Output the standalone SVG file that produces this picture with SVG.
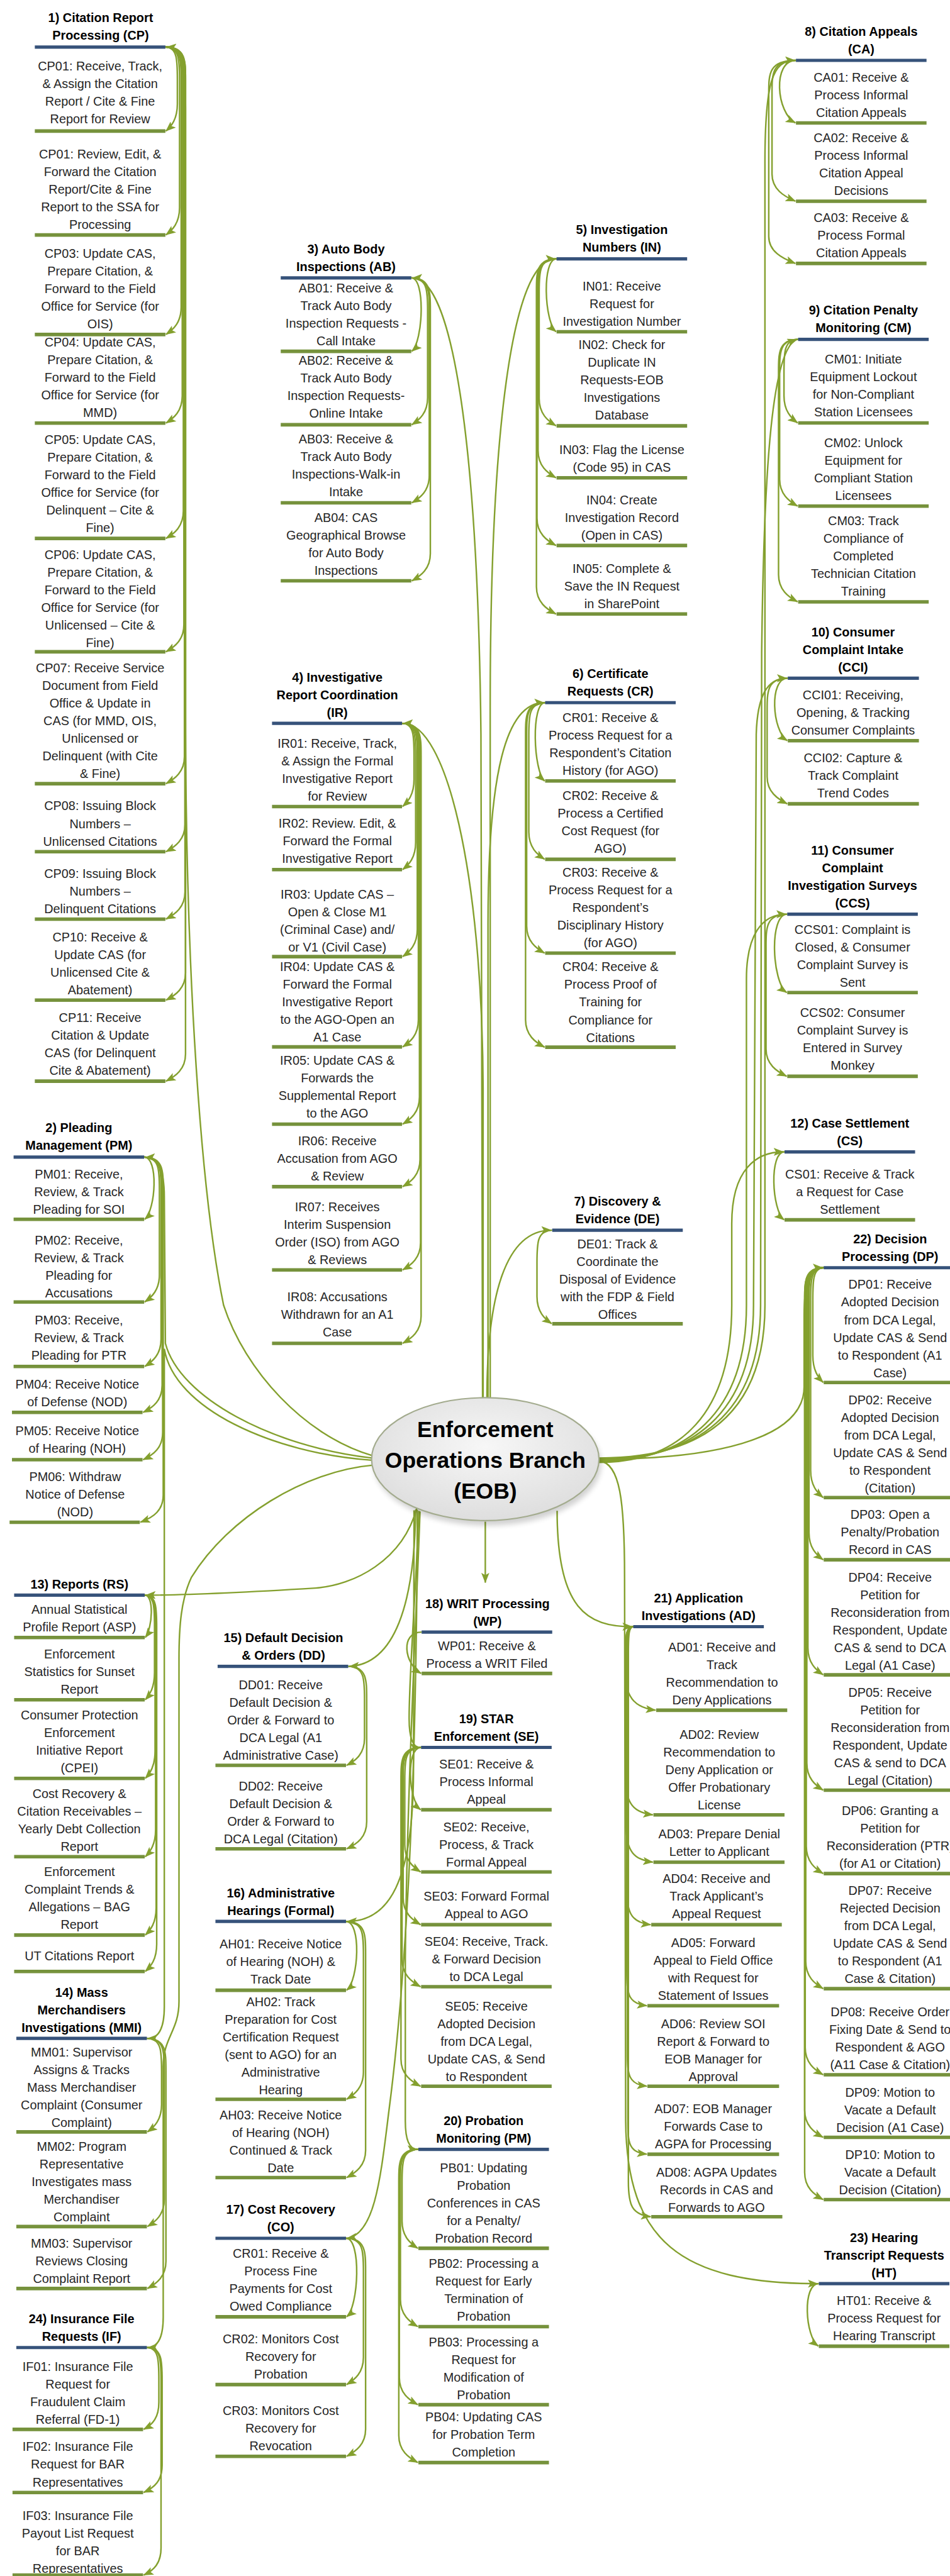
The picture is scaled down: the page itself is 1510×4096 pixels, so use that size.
<svg xmlns="http://www.w3.org/2000/svg" width="1510" height="4096" viewBox="0 0 1510 4096">
<style>
.t{font-family:"Liberation Sans",Arial,sans-serif;font-size:23px;fill:#262626;text-anchor:middle}
.h{font-family:"Liberation Sans",Arial,sans-serif;font-size:23px;font-weight:bold;fill:#000;text-anchor:middle}
.e{font-family:"Liberation Sans",Arial,sans-serif;font-size:41px;font-weight:bold;fill:#000;text-anchor:middle}
.hb{stroke:#36527a;stroke-width:6;fill:none}
.ib{stroke:#76923c;stroke-width:6.5;fill:none}
.c path{fill:none;stroke:#84a02e;stroke-width:2.8;marker-end:url(#ah)}
</style>
<defs>
<marker id="ah" viewBox="0 0 18 14" refX="17" refY="7" markerWidth="19" markerHeight="15" markerUnits="userSpaceOnUse" orient="auto"><path d="M0 0L18 7L0 14L4 7Z" fill="#84a02e"/></marker>
<radialGradient id="eobFill" cx="0.5" cy="0.4" r="0.6"><stop offset="0" stop-color="#f7f7f7"/><stop offset="1" stop-color="#dedede"/></radialGradient>
<filter id="soft" x="-20%" y="-20%" width="140%" height="150%"><feGaussianBlur stdDeviation="5"/></filter>
</defs>
<rect width="1510" height="4096" fill="#fff"/>
<g transform="scale(0.86476)">

<g id="connectors" class="c">
<!-- EOB to group headers -->
<path d="M683 2676C560 2640 450 2520 411 2400C370 2200 341 1800 341 1300L341 200C341 115 330 88 306 86.5"/>
<path d="M684 2681C500 2660 330 2570 304 2470L302 2200C302 2150 290 2128 267 2128"/>
<path d="M684 2685C500 2672 320 2590 302 2480L302 3690C302 3730 292 3748 272 3748"/>
<path d="M686 2694C560 2705 420 2790 352 2900C333 2940 329 2990 329 3050L329 3680C329 3735 300 3745 300 3800L300 4260C300 4295 292 4316 272 4316.5"/>
<path d="M766 2773C740 2870 650 2915 580 2920C450 2928 350 2933 268 2933"/>
<path d="M764 2776C762 2950 725 3060 642 3064"/>
<path d="M761 2777L760 3260C759 3460 715 3533 638 3533"/>
<path d="M767 2776C766 3300 745 3650 715 3880C700 4000 690 4108 638 4115.6"/>
<path d="M770 2778C763 2950 752 3080 752 3160C752 3200 760 3213 772 3213"/>
<path d="M772 2779C765 2980 748 3300 745 3600L745 3900C745 3935 752 3952 767 3952"/>
<path d="M892 2798L892 2910"/>
<path d="M887 2571L884 1350C878 800 830 511 758 511"/>
<path d="M888 2571L888 2000C886 1600 820 1330 741 1330"/>
<path d="M897 2571L897 1700C897 1420 930 1292 1000 1292"/>
<path d="M901 2571L901 1300C901 800 940 476 1021 476"/>
<path d="M895 2571C895 2380 930 2262 1013 2262"/>
<path d="M1101 2681C1290 2681 1406 2600 1406 2400L1406 300C1406 150 1420 111 1461 111"/>
<path d="M1101 2683C1280 2683 1398 2600 1398 2400L1400 1200C1404 850 1420 640 1465 624"/>
<path d="M1101 2685C1270 2685 1385 2600 1385 2400L1390 1350C1392 1280 1410 1247 1446 1247"/>
<path d="M1101 2687C1260 2687 1372 2600 1372 2400L1372 1800C1372 1720 1400 1681 1445 1681"/>
<path d="M1101 2689C1250 2689 1345 2600 1345 2400L1345 2250C1345 2150 1390 2118 1440 2118"/>
<path d="M1101 2683C1300 2683 1478 2650 1478 2550L1478 2420C1478 2360 1488 2331 1512 2331"/>
<path d="M1024 2778C1024 2960 1080 2991 1162 2991"/>
<path d="M1101 2686C1140 2690 1148 2760 1148 2900L1150 3900C1152 4120 1250 4199 1503 4199"/>

<!-- 1) CP items -->
<path d="M304 86.5C326 86.5 326 111.5 326 146.5L326 191C326 219 315 232 305 241"/>
<path d="M304 86.5C330 86.5 330 111.5 330 146.5L330 382C330 410 317 423 305 432"/>
<path d="M304 86.5C333 86.5 333 111.5 333 146.5L333 565C333 593 318.5 606 305 615"/>
<path d="M304 86.5C335 86.5 335 111.5 335 146.5L335 728C335 756 319.5 769 305 778"/>
<path d="M304 86.5C337 86.5 337 111.5 337 146.5L337 940C337 968 320.5 981 305 990"/>
<path d="M304 86.5C338 86.5 338 111.5 338 146.5L338 1148.5C338 1176.5 321 1189.5 305 1198.5"/>
<path d="M304 86.5C339 86.5 339 111.5 339 146.5L339 1391C339 1419 321.5 1432 305 1441"/>
<path d="M304 86.5C340 86.5 340 111.5 340 146.5L340 1516C340 1544 322 1557 305 1566"/>
<path d="M304 86.5C340 86.5 340 111.5 340 146.5L340 1640C340 1668 322 1681 305 1690"/>
<path d="M304 86.5C341 86.5 341 111.5 341 146.5L341 1789C341 1817 322.5 1830 305 1839"/>
<path d="M304 86.5C341 86.5 341 111.5 341 146.5L341 1938C341 1966 322.5 1979 305 1988"/>
<!-- 2) PM items -->
<path d="M265 2127.6C291.4 2127.6 286.6 2224 266 2242"/>
<path d="M265 2127.6C293 2127.6 293 2152.6 293 2187.6L293 2344C293 2372 279 2385 266 2394"/>
<path d="M265 2127.6C296 2127.6 296 2152.6 296 2187.6L296 2462.5C296 2490.5 280.5 2503.5 266 2512.5"/>
<path d="M265 2127.6C298 2127.6 298 2152.6 298 2187.6L298 2547C298 2575 281.5 2588 263 2597"/>
<path d="M265 2127.6C299 2127.6 299 2152.6 299 2187.6L299 2634C299 2662 282 2675 263 2684"/>
<path d="M265 2127.6C300 2127.6 300 2152.6 300 2187.6L300 2749C300 2777 282.5 2790 258 2799"/>
<!-- 13) RS items -->
<path d="M266 2933C283.6 2933 280.4 2993 267 3011"/>
<path d="M266 2933C284 2933 284 2958 284 2993L284 3075.5C284 3103.5 275 3116.5 267 3125.5"/>
<path d="M266 2933C285 2933 285 2958 285 2993L285 3220C285 3248 275.5 3261 267 3270"/>
<path d="M266 2933C286 2933 286 2958 286 2993L286 3364C286 3392 276 3405 267 3414"/>
<path d="M266 2933C287 2933 287 2958 287 2993L287 3508C287 3536 276.5 3549 267 3558"/>
<path d="M266 2933C288 2933 288 2958 288 2993L288 3575C288 3603 277 3616 267 3625"/>
<!-- 14) MMI items -->
<path d="M270 3748C297 3748 297 3773 297 3808L297 3870C297 3898 283.5 3911 271 3920"/>
<path d="M270 3748C302 3748 302 3773 302 3808L302 4044C302 4072 286 4085 271 4094"/>
<path d="M270 3748C305 3748 305 3773 305 3808L305 4158C305 4186 287.5 4199 271 4208"/>
<!-- 24) IF items -->
<path d="M270 4316.5C292 4316.5 292 4341.5 292 4376.5L292 4417C292 4445 281 4458 264 4467"/>
<path d="M270 4316.5C298 4316.5 298 4341.5 298 4376.5L298 4533C298 4561 284 4574 264 4583"/>
<path d="M270 4316.5C296 4316.5 296 4341.5 296 4376.5L296 4685C296 4713 283 4726 264 4735"/>
<!-- 3) AB items -->
<path d="M756 511C782.4 511 777.6 628 757 646"/>
<path d="M756 511C786 511 786 536 786 571L786 731C786 759 771 772 757 781"/>
<path d="M756 511C789 511 789 536 789 571L789 874.5C789 902.5 772.5 915.5 757 924.5"/>
<path d="M756 511C791 511 791 536 791 571L791 1018C791 1046 773.5 1059 757 1068"/>
<!-- 4) IR items -->
<path d="M739 1330C761 1330 761 1355 761 1390L761 1433C761 1461 750 1474 740 1483"/>
<path d="M739 1330C764 1330 764 1355 764 1390L764 1549C764 1577 751.5 1590 740 1599"/>
<path d="M739 1330C767 1330 767 1355 767 1390L767 1709C767 1737 753 1750 740 1759"/>
<path d="M739 1330C769 1330 769 1355 769 1390L769 1875C769 1903 754 1916 740 1925"/>
<path d="M739 1330C771 1330 771 1355 771 1390L771 2017C771 2045 755 2058 740 2067"/>
<path d="M739 1330C772 1330 772 1355 772 1390L772 2132C772 2160 755.5 2173 740 2182"/>
<path d="M739 1330C773 1330 773 1355 773 1390L773 2285C773 2313 756 2326 740 2335"/>
<path d="M739 1330C774 1330 774 1355 774 1390L774 2420C774 2448 756.5 2461 740 2470"/>
<!-- 5) IN items -->
<path d="M1023 476C995.5 476 1000.5 592 1022 610"/>
<path d="M1023 476C991 476 991 501 991 536L991 733C991 761 1007 774 1022 783"/>
<path d="M1023 476C989 476 989 501 989 536L989 828.6C989 856.6 1006 869.6 1022 878.6"/>
<path d="M1023 476C987 476 987 501 987 536L987 953C987 981 1005 994 1022 1003"/>
<path d="M1023 476C986 476 986 501 986 536L986 1079C986 1107 1004.5 1120 1022 1129"/>
<!-- 6) CR items -->
<path d="M1002 1292C975.6 1292 980.4 1418 1001 1436"/>
<path d="M1002 1292C972 1292 972 1317 972 1352L972 1530C972 1558 987 1571 1001 1580"/>
<path d="M1002 1292C968 1292 968 1317 968 1352L968 1702.5C968 1730.5 985 1743.5 1001 1752.5"/>
<path d="M1002 1292C966 1292 966 1317 966 1352L966 1875.5C966 1903.5 984 1916.5 1001 1925.5"/>
<!-- 7) DE item -->
<path d="M1015 2262C987 2262 987 2287 987 2322L987 2384C987 2412 1001 2425 1014 2434"/>
<!-- 8) CA items -->
<path d="M1463 111C1419 111 1427 208 1462 226"/>
<path d="M1463 111C1419 111 1419 136 1419 171L1419 320C1419 348 1441 361 1462 370"/>
<path d="M1463 111C1413 111 1413 136 1413 171L1413 434.4C1413 462.4 1438 475.4 1462 484.4"/>
<!-- 9) CM items -->
<path d="M1467 624C1441 624 1441 649 1441 684L1441 727.6C1441 755.6 1454 768.6 1466 777.6"/>
<path d="M1467 624C1433 624 1433 649 1433 684L1433 880.6C1433 908.6 1450 921.6 1466 930.6"/>
<path d="M1467 624C1431 624 1431 649 1431 684L1431 1056.6C1431 1084.6 1449 1097.6 1466 1106.6"/>
<!-- 10) CCI items -->
<path d="M1448 1247C1412.8 1247 1419.2 1344 1447 1362"/>
<path d="M1448 1247C1410 1247 1410 1272 1410 1307L1410 1428C1410 1456 1429 1469 1447 1478"/>
<!-- 11) CCS items -->
<path d="M1447 1681C1412.9 1681 1419.1 1807 1446 1825"/>
<path d="M1447 1681C1408 1681 1408 1706 1408 1741L1408 1929C1408 1957 1427.5 1970 1446 1979"/>
<!-- 12) CS item -->
<path d="M1442 2118C1413.4 2118 1418.6 2225 1441 2243"/>
<!-- 22) DP items -->
<path d="M1514 2331C1494 2331 1494 2356 1494 2391L1494 2492C1494 2520 1504 2533 1513 2542"/>
<path d="M1514 2331C1490 2331 1490 2356 1490 2391L1490 2703.6C1490 2731.6 1502 2744.6 1513 2753.6"/>
<path d="M1514 2331C1487 2331 1487 2356 1487 2391L1487 2818C1487 2846 1500.5 2859 1513 2868"/>
<path d="M1514 2331C1485 2331 1485 2356 1485 2391L1485 3029.6C1485 3057.6 1499.5 3070.6 1513 3079.6"/>
<path d="M1514 2331C1483 2331 1483 2356 1483 2391L1483 3241.6C1483 3269.6 1498.5 3282.6 1513 3291.6"/>
<path d="M1514 2331C1482 2331 1482 2356 1482 2391L1482 3395C1482 3423 1498 3436 1513 3445"/>
<path d="M1514 2331C1481 2331 1481 2356 1481 2391L1481 3606.6C1481 3634.6 1497.5 3647.6 1513 3656.6"/>
<path d="M1514 2331C1480 2331 1480 2356 1480 2391L1480 3765C1480 3793 1497 3806 1513 3815"/>
<path d="M1514 2331C1479 2331 1479 2356 1479 2391L1479 3880C1479 3908 1496.5 3921 1513 3930"/>
<path d="M1514 2331C1479 2331 1479 2356 1479 2391L1479 3994.5C1479 4022.5 1496.5 4035.5 1513 4044.5"/>
<!-- 23) HT item -->
<path d="M1505 4199C1474.2 4199 1479.8 4296 1504 4314"/>
<!-- 21) AD items -->
<path d="M1164 2991C1151 2991 1150 3005 1150 3040L1150 3079.6C1150 3124.6 1171 3140.6 1205 3144.6"/>
<path d="M1164 2991C1151 2991 1150 3005 1150 3040L1150 3272C1150 3317 1166 3333 1200 3337"/>
<path d="M1164 2991C1152 2991 1151 3005 1151 3040L1151 3359C1151 3404 1166 3420 1200 3424"/>
<path d="M1164 2991C1153 2991 1152 3005 1152 3040L1152 3474C1152 3519 1162 3535 1196 3539"/>
<path d="M1164 2991C1153 2991 1152 3005 1152 3040L1152 3623C1152 3668 1155 3684 1189 3688"/>
<path d="M1164 2991C1154 2991 1153 3005 1153 3040L1153 3771C1153 3816 1155 3832 1189 3836"/>
<path d="M1164 2991C1155 2991 1154 3005 1154 3040L1154 3896C1154 3941 1155 3957 1189 3961"/>
<path d="M1164 2991C1156 2991 1155 3005 1155 3040L1155 4011C1155 4056 1162 4072 1196 4076"/>
<!-- 18) WP item -->
<path d="M775 3001C735.4 3001 742.6 3059 774 3077"/>
<!-- 19) SE items -->
<path d="M774 3213C745.4 3213 750.6 3309.6 773 3327.6"/>
<path d="M774 3213C744 3213 744 3238 744 3273L744 3392C744 3420 759 3433 773 3442"/>
<path d="M774 3213C741 3213 741 3238 741 3273L741 3489C741 3517 757.5 3530 773 3539"/>
<path d="M774 3213C739 3213 739 3238 739 3273L739 3603C739 3631 756.5 3644 773 3653"/>
<path d="M774 3213C737 3213 737 3238 737 3273L737 3786C737 3814 755.5 3827 773 3836"/>
<!-- 20) PB items -->
<path d="M769 3952C739 3952 739 3977 739 4012L739 4084C739 4112 754 4125 768 4134"/>
<path d="M769 3952C736 3952 736 3977 736 4012L736 4228C736 4256 752.5 4269 768 4278"/>
<path d="M769 3952C734 3952 734 3977 734 4012L734 4371.6C734 4399.6 751.5 4412.6 768 4421.6"/>
<path d="M769 3952C733 3952 733 3977 733 4012L733 4478C733 4506 751 4519 768 4528"/>
<!-- 15) DD items -->
<path d="M640 3064C670 3064 670 3089 670 3124L670 3196C670 3224 655 3237 637 3246"/>
<path d="M640 3064C674 3064 674 3089 674 3124L674 3349.5C674 3377.5 657 3390.5 637 3399.5"/>
<!-- 16) AH items -->
<path d="M636 3533C664.6 3533 659.4 3641.5 637 3659.5"/>
<path d="M636 3533C668 3533 668 3558 668 3593L668 3810C668 3838 652 3851 637 3860"/>
<path d="M636 3533C672 3533 672 3558 672 3593L672 3954C672 3982 654 3995 637 4004"/>
<!-- 17) CO items -->
<path d="M636 4115.6C664.6 4115.6 659.4 4242 637 4260"/>
<path d="M636 4115.6C668 4115.6 668 4140.6 668 4175.6L668 4334.6C668 4362.6 652 4375.6 637 4384.6"/>
<path d="M636 4115.6C672 4115.6 672 4140.6 672 4175.6L672 4466.6C672 4494.6 654 4507.6 637 4516.6"/>
</g>

<!-- central node -->
<g id="eob">
<ellipse cx="896" cy="2692" rx="209" ry="113" fill="#000" opacity="0.18" filter="url(#soft)"/>
<ellipse cx="892" cy="2683" rx="209" ry="113" fill="url(#eobFill)" stroke="#a3ab8e" stroke-width="2.5"/>
<text class="e" x="892" y="2642"><tspan x="892">Enforcement</tspan><tspan x="892" dy="57">Operations Branch</tspan><tspan x="892" dy="57">(EOB)</tspan></text>
</g>

<!-- 1) Citation Report Processing -->
<g id="cp">
<text class="h" x="185" y="41"><tspan x="185">1) Citation Report</tspan><tspan x="185" dy="32.4">Processing (CP)</tspan></text>
<path class="hb" d="M64 86.5H304"/>
<g id="cp01a"><text class="t" x="184" y="130"><tspan x="184">CP01: Receive, Track,</tspan><tspan x="184" dy="32.4">&amp; Assign the Citation</tspan><tspan x="184" dy="32.4">Report / Cite &amp; Fine</tspan><tspan x="184" dy="32.4">Report for Review</tspan></text><path class="ib" d="M64 241H304"/></g>
<g id="cp01b"><text class="t" x="184" y="291"><tspan x="184">CP01: Review, Edit, &amp;</tspan><tspan x="184" dy="32.4">Forward the Citation</tspan><tspan x="184" dy="32.4">Report/Cite &amp; Fine</tspan><tspan x="184" dy="32.4">Report to the SSA for</tspan><tspan x="184" dy="32.4">Processing</tspan></text><path class="ib" d="M64 432H304"/></g>
<g id="cp03"><text class="t" x="184" y="474"><tspan x="184">CP03: Update CAS,</tspan><tspan x="184" dy="32.4">Prepare Citation, &amp;</tspan><tspan x="184" dy="32.4">Forward to the Field</tspan><tspan x="184" dy="32.4">Office for Service (for</tspan><tspan x="184" dy="32.4">OIS)</tspan></text><path class="ib" d="M64 615H304"/></g>
<g id="cp04"><text class="t" x="184" y="637"><tspan x="184">CP04: Update CAS,</tspan><tspan x="184" dy="32.4">Prepare Citation, &amp;</tspan><tspan x="184" dy="32.4">Forward to the Field</tspan><tspan x="184" dy="32.4">Office for Service (for</tspan><tspan x="184" dy="32.4">MMD)</tspan></text><path class="ib" d="M64 778H304"/></g>
<g id="cp05"><text class="t" x="184" y="816"><tspan x="184">CP05: Update CAS,</tspan><tspan x="184" dy="32.4">Prepare Citation, &amp;</tspan><tspan x="184" dy="32.4">Forward to the Field</tspan><tspan x="184" dy="32.4">Office for Service (for</tspan><tspan x="184" dy="32.4">Delinquent – Cite &amp;</tspan><tspan x="184" dy="32.4">Fine)</tspan></text><path class="ib" d="M64 990H304"/></g>
<g id="cp06"><text class="t" x="184" y="1028"><tspan x="184">CP06: Update CAS,</tspan><tspan x="184" dy="32.4">Prepare Citation, &amp;</tspan><tspan x="184" dy="32.4">Forward to the Field</tspan><tspan x="184" dy="32.4">Office for Service (for</tspan><tspan x="184" dy="32.4">Unlicensed – Cite &amp;</tspan><tspan x="184" dy="32.4">Fine)</tspan></text><path class="ib" d="M64 1198.5H304"/></g>
<g id="cp07"><text class="t" x="184" y="1236"><tspan x="184">CP07: Receive Service</tspan><tspan x="184" dy="32.4">Document from Field</tspan><tspan x="184" dy="32.4">Office &amp; Update in</tspan><tspan x="184" dy="32.4">CAS (for MMD, OIS,</tspan><tspan x="184" dy="32.4">Unlicensed or</tspan><tspan x="184" dy="32.4">Delinquent (with Cite</tspan><tspan x="184" dy="32.4">&amp; Fine)</tspan></text><path class="ib" d="M64 1441H304"/></g>
<g id="cp08"><text class="t" x="184" y="1490"><tspan x="184">CP08: Issuing Block</tspan><tspan x="184" dy="32.4">Numbers –</tspan><tspan x="184" dy="32.4">Unlicensed Citations</tspan></text><path class="ib" d="M64 1566H304"/></g>
<g id="cp09"><text class="t" x="184" y="1614"><tspan x="184">CP09: Issuing Block</tspan><tspan x="184" dy="32.4">Numbers –</tspan><tspan x="184" dy="32.4">Delinquent Citations</tspan></text><path class="ib" d="M64 1690H304"/></g>
<g id="cp10"><text class="t" x="184" y="1731"><tspan x="184">CP10: Receive &amp;</tspan><tspan x="184" dy="32.4">Update CAS (for</tspan><tspan x="184" dy="32.4">Unlicensed Cite &amp;</tspan><tspan x="184" dy="32.4">Abatement)</tspan></text><path class="ib" d="M64 1839H304"/></g>
<g id="cp11"><text class="t" x="184" y="1879"><tspan x="184">CP11: Receive</tspan><tspan x="184" dy="32.4">Citation &amp; Update</tspan><tspan x="184" dy="32.4">CAS (for Delinquent</tspan><tspan x="184" dy="32.4">Cite &amp; Abatement)</tspan></text><path class="ib" d="M64 1988H304"/></g>
</g>

<!-- 2) Pleading Management -->
<g id="pm">
<text class="h" x="145" y="2082"><tspan x="145">2) Pleading</tspan><tspan x="145" dy="32.4">Management (PM)</tspan></text>
<path class="hb" d="M25 2127.6H265"/>
<g id="pm01"><text class="t" x="145" y="2167"><tspan x="145">PM01: Receive,</tspan><tspan x="145" dy="32.4">Review, &amp; Track</tspan><tspan x="145" dy="32.4">Pleading for SOI</tspan></text><path class="ib" d="M25 2242H265"/></g>
<g id="pm02"><text class="t" x="145" y="2288"><tspan x="145">PM02: Receive,</tspan><tspan x="145" dy="32.4">Review, &amp; Track</tspan><tspan x="145" dy="32.4">Pleading for</tspan><tspan x="145" dy="32.4">Accusations</tspan></text><path class="ib" d="M25 2394H265"/></g>
<g id="pm03"><text class="t" x="145" y="2435"><tspan x="145">PM03: Receive,</tspan><tspan x="145" dy="32.4">Review, &amp; Track</tspan><tspan x="145" dy="32.4">Pleading for PTR</tspan></text><path class="ib" d="M25 2512.5H265"/></g>
<g id="pm04"><text class="t" x="142" y="2553"><tspan x="142">PM04: Receive Notice</tspan><tspan x="142" dy="32.4">of Defense (NOD)</tspan></text><path class="ib" d="M22 2597H262"/></g>
<g id="pm05"><text class="t" x="142" y="2639"><tspan x="142">PM05: Receive Notice</tspan><tspan x="142" dy="32.4">of Hearing (NOH)</tspan></text><path class="ib" d="M22 2684H262"/></g>
<g id="pm06"><text class="t" x="138" y="2723"><tspan x="138">PM06: Withdraw</tspan><tspan x="138" dy="32.4">Notice of Defense</tspan><tspan x="138" dy="32.4">(NOD)</tspan></text><path class="ib" d="M17.6 2799H257"/></g>
</g>

<!-- 13) Reports -->
<g id="rs">
<text class="h" x="146" y="2921">13) Reports (RS)</text>
<path class="hb" d="M26 2933H266"/>
<g id="rs1"><text class="t" x="146" y="2967"><tspan x="146">Annual Statistical</tspan><tspan x="146" dy="32.4">Profile Report (ASP)</tspan></text><path class="ib" d="M26 3011H266"/></g>
<g id="rs2"><text class="t" x="146" y="3049"><tspan x="146">Enforcement</tspan><tspan x="146" dy="32.4">Statistics for Sunset</tspan><tspan x="146" dy="32.4">Report</tspan></text><path class="ib" d="M26 3125.5H266"/></g>
<g id="rs3"><text class="t" x="146" y="3162"><tspan x="146">Consumer Protection</tspan><tspan x="146" dy="32.4">Enforcement</tspan><tspan x="146" dy="32.4">Initiative Report</tspan><tspan x="146" dy="32.4">(CPEI)</tspan></text><path class="ib" d="M26 3270H266"/></g>
<g id="rs4"><text class="t" x="146" y="3306"><tspan x="146">Cost Recovery &amp;</tspan><tspan x="146" dy="32.4">Citation Receivables –</tspan><tspan x="146" dy="32.4">Yearly Debt Collection</tspan><tspan x="146" dy="32.4">Report</tspan></text><path class="ib" d="M26 3414H266"/></g>
<g id="rs5"><text class="t" x="146" y="3449.6"><tspan x="146">Enforcement</tspan><tspan x="146" dy="32.4">Complaint Trends &amp;</tspan><tspan x="146" dy="32.4">Allegations – BAG</tspan><tspan x="146" dy="32.4">Report</tspan></text><path class="ib" d="M26 3558H266"/></g>
<g id="rs6"><text class="t" x="146" y="3605">UT Citations Report</text><path class="ib" d="M26 3625H266"/></g>
</g>

<!-- 14) Mass Merchandisers Investigations -->
<g id="mmi">
<text class="h" x="150" y="3671"><tspan x="150">14) Mass</tspan><tspan x="150" dy="32.4">Merchandisers</tspan><tspan x="150" dy="32.4">Investigations (MMI)</tspan></text>
<path class="hb" d="M30 3748H270"/>
<g id="mm01"><text class="t" x="150" y="3781"><tspan x="150">MM01: Supervisor</tspan><tspan x="150" dy="32.4">Assigns &amp; Tracks</tspan><tspan x="150" dy="32.4">Mass Merchandiser</tspan><tspan x="150" dy="32.4">Complaint (Consumer</tspan><tspan x="150" dy="32.4">Complaint)</tspan></text><path class="ib" d="M30 3920H270"/></g>
<g id="mm02"><text class="t" x="150" y="3955"><tspan x="150">MM02: Program</tspan><tspan x="150" dy="32.4">Representative</tspan><tspan x="150" dy="32.4">Investigates mass</tspan><tspan x="150" dy="32.4">Merchandiser</tspan><tspan x="150" dy="32.4">Complaint</tspan></text><path class="ib" d="M30 4094H270"/></g>
<g id="mm03"><text class="t" x="150" y="4133"><tspan x="150">MM03: Supervisor</tspan><tspan x="150" dy="32.4">Reviews Closing</tspan><tspan x="150" dy="32.4">Complaint Report</tspan></text><path class="ib" d="M30 4208H270"/></g>
</g>

<!-- 24) Insurance File Requests -->
<g id="if">
<text class="h" x="150" y="4272"><tspan x="150">24) Insurance File</tspan><tspan x="150" dy="32.4">Requests (IF)</tspan></text>
<path class="hb" d="M30 4316.5H270"/>
<g id="if01"><text class="t" x="143" y="4360"><tspan x="143">IF01: Insurance File</tspan><tspan x="143" dy="32.4">Request for</tspan><tspan x="143" dy="32.4">Fraudulent Claim</tspan><tspan x="143" dy="32.4">Referral (FD-1)</tspan></text><path class="ib" d="M23 4467H263"/></g>
<g id="if02"><text class="t" x="143" y="4507"><tspan x="143">IF02: Insurance File</tspan><tspan x="143" dy="32.4">Request for BAR</tspan><tspan x="143" dy="32.4">Representatives</tspan></text><path class="ib" d="M23 4583H263"/></g>
<g id="if03"><text class="t" x="143" y="4634"><tspan x="143">IF03: Insurance File</tspan><tspan x="143" dy="32.4">Payout List Request</tspan><tspan x="143" dy="32.4">for BAR</tspan><tspan x="143" dy="32.4">Representatives</tspan></text><path class="ib" d="M23 4735H263"/></g>
</g>

<!-- 3) Auto Body Inspections -->
<g id="ab">
<text class="h" x="636" y="466"><tspan x="636">3) Auto Body</tspan><tspan x="636" dy="32.4">Inspections (AB)</tspan></text>
<path class="hb" d="M516 511H756"/>
<g id="ab01"><text class="t" x="636" y="538"><tspan x="636">AB01: Receive &amp;</tspan><tspan x="636" dy="32.4">Track Auto Body</tspan><tspan x="636" dy="32.4">Inspection Requests -</tspan><tspan x="636" dy="32.4">Call Intake</tspan></text><path class="ib" d="M516 646H756"/></g>
<g id="ab02"><text class="t" x="636" y="671"><tspan x="636">AB02: Receive &amp;</tspan><tspan x="636" dy="32.4">Track Auto Body</tspan><tspan x="636" dy="32.4">Inspection Requests-</tspan><tspan x="636" dy="32.4">Online Intake</tspan></text><path class="ib" d="M516 781H756"/></g>
<g id="ab03"><text class="t" x="636" y="815"><tspan x="636">AB03: Receive &amp;</tspan><tspan x="636" dy="32.4">Track Auto Body</tspan><tspan x="636" dy="32.4">Inspections-Walk-in</tspan><tspan x="636" dy="32.4">Intake</tspan></text><path class="ib" d="M516 924.5H756"/></g>
<g id="ab04"><text class="t" x="636" y="960"><tspan x="636">AB04: CAS</tspan><tspan x="636" dy="32.4">Geographical Browse</tspan><tspan x="636" dy="32.4">for Auto Body</tspan><tspan x="636" dy="32.4">Inspections</tspan></text><path class="ib" d="M516 1068H756"/></g>
</g>

<!-- 4) Investigative Report Coordination -->
<g id="ir">
<text class="h" x="620" y="1253"><tspan x="620">4) Investigative</tspan><tspan x="620" dy="32.4">Report Coordination</tspan><tspan x="620" dy="32.4">(IR)</tspan></text>
<path class="hb" d="M500 1330H739"/>
<g id="ir01"><text class="t" x="620" y="1375"><tspan x="620">IR01: Receive, Track,</tspan><tspan x="620" dy="32.4">&amp; Assign the Formal</tspan><tspan x="620" dy="32.4">Investigative Report</tspan><tspan x="620" dy="32.4">for Review</tspan></text><path class="ib" d="M500 1483H739"/></g>
<g id="ir02"><text class="t" x="620" y="1522"><tspan x="620">IR02: Review. Edit, &amp;</tspan><tspan x="620" dy="32.4">Forward the Formal</tspan><tspan x="620" dy="32.4">Investigative Report</tspan></text><path class="ib" d="M500 1599H739"/></g>
<g id="ir03"><text class="t" x="620" y="1652"><tspan x="620">IR03: Update CAS –</tspan><tspan x="620" dy="32.4">Open &amp; Close M1</tspan><tspan x="620" dy="32.4">(Criminal Case) and/</tspan><tspan x="620" dy="32.4">or V1 (Civil Case)</tspan></text><path class="ib" d="M500 1759H739"/></g>
<g id="ir04"><text class="t" x="620" y="1785"><tspan x="620">IR04: Update CAS &amp;</tspan><tspan x="620" dy="32.4">Forward the Formal</tspan><tspan x="620" dy="32.4">Investigative Report</tspan><tspan x="620" dy="32.4">to the AGO-Open an</tspan><tspan x="620" dy="32.4">A1 Case</tspan></text><path class="ib" d="M500 1925H739"/></g>
<g id="ir05"><text class="t" x="620" y="1958"><tspan x="620">IR05: Update CAS &amp;</tspan><tspan x="620" dy="32.4">Forwards the</tspan><tspan x="620" dy="32.4">Supplemental Report</tspan><tspan x="620" dy="32.4">to the AGO</tspan></text><path class="ib" d="M500 2067H739"/></g>
<g id="ir06"><text class="t" x="620" y="2106"><tspan x="620">IR06: Receive</tspan><tspan x="620" dy="32.4">Accusation from AGO</tspan><tspan x="620" dy="32.4">&amp; Review</tspan></text><path class="ib" d="M500 2182H739"/></g>
<g id="ir07"><text class="t" x="620" y="2227"><tspan x="620">IR07: Receives</tspan><tspan x="620" dy="32.4">Interim Suspension</tspan><tspan x="620" dy="32.4">Order (ISO) from AGO</tspan><tspan x="620" dy="32.4">&amp; Reviews</tspan></text><path class="ib" d="M500 2335H739"/></g>
<g id="ir08"><text class="t" x="620" y="2393"><tspan x="620">IR08: Accusations</tspan><tspan x="620" dy="32.4">Withdrawn for an A1</tspan><tspan x="620" dy="32.4">Case</tspan></text><path class="ib" d="M500 2470H739"/></g>
</g>

<!-- 5) Investigation Numbers -->
<g id="in">
<text class="h" x="1143" y="430"><tspan x="1143">5) Investigation</tspan><tspan x="1143" dy="32.4">Numbers (IN)</tspan></text>
<path class="hb" d="M1023 476H1263"/>
<g id="in01"><text class="t" x="1143" y="534"><tspan x="1143">IN01: Receive</tspan><tspan x="1143" dy="32.4">Request for</tspan><tspan x="1143" dy="32.4">Investigation Number</tspan></text><path class="ib" d="M1023 610H1263"/></g>
<g id="in02"><text class="t" x="1143" y="642"><tspan x="1143">IN02: Check for</tspan><tspan x="1143" dy="32.4">Duplicate IN</tspan><tspan x="1143" dy="32.4">Requests-EOB</tspan><tspan x="1143" dy="32.4">Investigations</tspan><tspan x="1143" dy="32.4">Database</tspan></text><path class="ib" d="M1023 783H1263"/></g>
<g id="in03"><text class="t" x="1143" y="834.5"><tspan x="1143">IN03: Flag the License</tspan><tspan x="1143" dy="32.4">(Code 95) in CAS</tspan></text><path class="ib" d="M1023 878.6H1263"/></g>
<g id="in04"><text class="t" x="1143" y="927"><tspan x="1143">IN04: Create</tspan><tspan x="1143" dy="32.4">Investigation Record</tspan><tspan x="1143" dy="32.4">(Open in CAS)</tspan></text><path class="ib" d="M1023 1003H1263"/></g>
<g id="in05"><text class="t" x="1143" y="1053"><tspan x="1143">IN05: Complete &amp;</tspan><tspan x="1143" dy="32.4">Save the IN Request</tspan><tspan x="1143" dy="32.4">in SharePoint</tspan></text><path class="ib" d="M1023 1129H1263"/></g>
</g>

<!-- 6) Certificate Requests -->
<g id="cr">
<text class="h" x="1122" y="1247"><tspan x="1122">6) Certificate</tspan><tspan x="1122" dy="32.4">Requests (CR)</tspan></text>
<path class="hb" d="M1002 1292H1242"/>
<g id="cr01"><text class="t" x="1122" y="1327"><tspan x="1122">CR01: Receive &amp;</tspan><tspan x="1122" dy="32.4">Process Request for a</tspan><tspan x="1122" dy="32.4">Respondent’s Citation</tspan><tspan x="1122" dy="32.4">History (for AGO)</tspan></text><path class="ib" d="M1002 1436H1242"/></g>
<g id="cr02"><text class="t" x="1122" y="1471"><tspan x="1122">CR02: Receive &amp;</tspan><tspan x="1122" dy="32.4">Process a Certified</tspan><tspan x="1122" dy="32.4">Cost Request (for</tspan><tspan x="1122" dy="32.4">AGO)</tspan></text><path class="ib" d="M1002 1580H1242"/></g>
<g id="cr03"><text class="t" x="1122" y="1612"><tspan x="1122">CR03: Receive &amp;</tspan><tspan x="1122" dy="32.4">Process Request for a</tspan><tspan x="1122" dy="32.4">Respondent’s</tspan><tspan x="1122" dy="32.4">Disciplinary History</tspan><tspan x="1122" dy="32.4">(for AGO)</tspan></text><path class="ib" d="M1002 1752.5H1242"/></g>
<g id="cr04"><text class="t" x="1122" y="1786"><tspan x="1122">CR04: Receive &amp;</tspan><tspan x="1122" dy="32.4">Process Proof of</tspan><tspan x="1122" dy="32.4">Training for</tspan><tspan x="1122" dy="32.4">Compliance for</tspan><tspan x="1122" dy="32.4">Citations</tspan></text><path class="ib" d="M1002 1925.5H1242"/></g>
</g>

<!-- 7) Discovery & Evidence -->
<g id="de">
<text class="h" x="1135" y="2217"><tspan x="1135">7) Discovery &amp;</tspan><tspan x="1135" dy="32.4">Evidence (DE)</tspan></text>
<path class="hb" d="M1015 2262H1255"/>
<g id="de01"><text class="t" x="1135" y="2295"><tspan x="1135">DE01: Track &amp;</tspan><tspan x="1135" dy="32.4">Coordinate the</tspan><tspan x="1135" dy="32.4">Disposal of Evidence</tspan><tspan x="1135" dy="32.4">with the FDP &amp; Field</tspan><tspan x="1135" dy="32.4">Offices</tspan></text><path class="ib" d="M1015 2434H1255"/></g>
</g>

<!-- 8) Citation Appeals -->
<g id="ca">
<text class="h" x="1583" y="66"><tspan x="1583">8) Citation Appeals</tspan><tspan x="1583" dy="32.4">(CA)</tspan></text>
<path class="hb" d="M1463 111H1703"/>
<g id="ca01"><text class="t" x="1583" y="150"><tspan x="1583">CA01: Receive &amp;</tspan><tspan x="1583" dy="32.4">Process Informal</tspan><tspan x="1583" dy="32.4">Citation Appeals</tspan></text><path class="ib" d="M1463 226H1703"/></g>
<g id="ca02"><text class="t" x="1583" y="261"><tspan x="1583">CA02: Receive &amp;</tspan><tspan x="1583" dy="32.4">Process Informal</tspan><tspan x="1583" dy="32.4">Citation Appeal</tspan><tspan x="1583" dy="32.4">Decisions</tspan></text><path class="ib" d="M1463 370H1703"/></g>
<g id="ca03"><text class="t" x="1583" y="408"><tspan x="1583">CA03: Receive &amp;</tspan><tspan x="1583" dy="32.4">Process Formal</tspan><tspan x="1583" dy="32.4">Citation Appeals</tspan></text><path class="ib" d="M1463 484.4H1703"/></g>
</g>

<!-- 9) Citation Penalty Monitoring -->
<g id="cm">
<text class="h" x="1587" y="578"><tspan x="1587">9) Citation Penalty</tspan><tspan x="1587" dy="32.4">Monitoring (CM)</tspan></text>
<path class="hb" d="M1467 624H1707"/>
<g id="cm01"><text class="t" x="1587" y="668"><tspan x="1587">CM01: Initiate</tspan><tspan x="1587" dy="32.4">Equipment Lockout</tspan><tspan x="1587" dy="32.4">for Non-Compliant</tspan><tspan x="1587" dy="32.4">Station Licensees</tspan></text><path class="ib" d="M1467 777.6H1707"/></g>
<g id="cm02"><text class="t" x="1587" y="822"><tspan x="1587">CM02: Unlock</tspan><tspan x="1587" dy="32.4">Equipment for</tspan><tspan x="1587" dy="32.4">Compliant Station</tspan><tspan x="1587" dy="32.4">Licensees</tspan></text><path class="ib" d="M1467 930.6H1707"/></g>
<g id="cm03"><text class="t" x="1587" y="966"><tspan x="1587">CM03: Track</tspan><tspan x="1587" dy="32.4">Compliance of</tspan><tspan x="1587" dy="32.4">Completed</tspan><tspan x="1587" dy="32.4">Technician Citation</tspan><tspan x="1587" dy="32.4">Training</tspan></text><path class="ib" d="M1467 1106.6H1707"/></g>
</g>

<!-- 10) Consumer Complaint Intake -->
<g id="cci">
<text class="h" x="1568" y="1170"><tspan x="1568">10) Consumer</tspan><tspan x="1568" dy="32.4">Complaint Intake</tspan><tspan x="1568" dy="32.4">(CCI)</tspan></text>
<path class="hb" d="M1448 1247H1689"/>
<g id="cci01"><text class="t" x="1568" y="1286"><tspan x="1568">CCI01: Receiving,</tspan><tspan x="1568" dy="32.4">Opening, &amp; Tracking</tspan><tspan x="1568" dy="32.4">Consumer Complaints</tspan></text><path class="ib" d="M1448 1362H1689"/></g>
<g id="cci02"><text class="t" x="1568" y="1402"><tspan x="1568">CCI02: Capture &amp;</tspan><tspan x="1568" dy="32.4">Track Complaint</tspan><tspan x="1568" dy="32.4">Trend Codes</tspan></text><path class="ib" d="M1448 1478H1689"/></g>
</g>

<!-- 11) Consumer Complaint Investigation Surveys -->
<g id="ccs">
<text class="h" x="1567" y="1571"><tspan x="1567">11) Consumer</tspan><tspan x="1567" dy="32.4">Complaint</tspan><tspan x="1567" dy="32.4">Investigation Surveys</tspan><tspan x="1567" dy="32.4">(CCS)</tspan></text>
<path class="hb" d="M1447 1681H1687"/>
<g id="ccs01"><text class="t" x="1567" y="1717"><tspan x="1567">CCS01: Complaint is</tspan><tspan x="1567" dy="32.4">Closed, &amp; Consumer</tspan><tspan x="1567" dy="32.4">Complaint Survey is</tspan><tspan x="1567" dy="32.4">Sent</tspan></text><path class="ib" d="M1447 1825H1687"/></g>
<g id="ccs02"><text class="t" x="1567" y="1870"><tspan x="1567">CCS02: Consumer</tspan><tspan x="1567" dy="32.4">Complaint Survey is</tspan><tspan x="1567" dy="32.4">Entered in Survey</tspan><tspan x="1567" dy="32.4">Monkey</tspan></text><path class="ib" d="M1447 1979H1687"/></g>
</g>

<!-- 12) Case Settlement -->
<g id="cs">
<text class="h" x="1562" y="2073"><tspan x="1562">12) Case Settlement</tspan><tspan x="1562" dy="32.4">(CS)</tspan></text>
<path class="hb" d="M1442 2118H1682"/>
<g id="cs01"><text class="t" x="1562" y="2167"><tspan x="1562">CS01: Receive &amp; Track</tspan><tspan x="1562" dy="32.4">a Request for Case</tspan><tspan x="1562" dy="32.4">Settlement</tspan></text><path class="ib" d="M1442 2243H1682"/></g>
</g>

<!-- 22) Decision Processing -->
<g id="dp">
<text class="h" x="1636" y="2286"><tspan x="1636">22) Decision</tspan><tspan x="1636" dy="32.4">Processing (DP)</tspan></text>
<path class="hb" d="M1514 2331H1756"/>
<g id="dp01"><text class="t" x="1636" y="2370"><tspan x="1636">DP01: Receive</tspan><tspan x="1636" dy="32.4">Adopted Decision</tspan><tspan x="1636" dy="32.4">from DCA Legal,</tspan><tspan x="1636" dy="32.4">Update CAS &amp; Send</tspan><tspan x="1636" dy="32.4">to Respondent (A1</tspan><tspan x="1636" dy="32.4">Case)</tspan></text><path class="ib" d="M1514 2542H1756"/></g>
<g id="dp02"><text class="t" x="1636" y="2582"><tspan x="1636">DP02: Receive</tspan><tspan x="1636" dy="32.4">Adopted Decision</tspan><tspan x="1636" dy="32.4">from DCA Legal,</tspan><tspan x="1636" dy="32.4">Update CAS &amp; Send</tspan><tspan x="1636" dy="32.4">to Respondent</tspan><tspan x="1636" dy="32.4">(Citation)</tspan></text><path class="ib" d="M1514 2753.6H1756"/></g>
<g id="dp03"><text class="t" x="1636" y="2793"><tspan x="1636">DP03: Open a</tspan><tspan x="1636" dy="32.4">Penalty/Probation</tspan><tspan x="1636" dy="32.4">Record in CAS</tspan></text><path class="ib" d="M1514 2868H1756"/></g>
<g id="dp04"><text class="t" x="1636" y="2908"><tspan x="1636">DP04: Receive</tspan><tspan x="1636" dy="32.4">Petition for</tspan><tspan x="1636" dy="32.4">Reconsideration from</tspan><tspan x="1636" dy="32.4">Respondent, Update</tspan><tspan x="1636" dy="32.4">CAS &amp; send to DCA</tspan><tspan x="1636" dy="32.4">Legal (A1 Case)</tspan></text><path class="ib" d="M1514 3079.6H1756"/></g>
<g id="dp05"><text class="t" x="1636" y="3120"><tspan x="1636">DP05: Receive</tspan><tspan x="1636" dy="32.4">Petition for</tspan><tspan x="1636" dy="32.4">Reconsideration from</tspan><tspan x="1636" dy="32.4">Respondent, Update</tspan><tspan x="1636" dy="32.4">CAS &amp; send to DCA</tspan><tspan x="1636" dy="32.4">Legal (Citation)</tspan></text><path class="ib" d="M1514 3291.6H1756"/></g>
<g id="dp06"><text class="t" x="1636" y="3337"><tspan x="1636">DP06: Granting a</tspan><tspan x="1636" dy="32.4">Petition for</tspan><tspan x="1636" dy="32.4">Reconsideration (PTR)</tspan><tspan x="1636" dy="32.4">(for A1 or Citation)</tspan></text><path class="ib" d="M1514 3445H1756"/></g>
<g id="dp07"><text class="t" x="1636" y="3484"><tspan x="1636">DP07: Receive</tspan><tspan x="1636" dy="32.4">Rejected Decision</tspan><tspan x="1636" dy="32.4">from DCA Legal,</tspan><tspan x="1636" dy="32.4">Update CAS &amp; Send</tspan><tspan x="1636" dy="32.4">to Respondent (A1</tspan><tspan x="1636" dy="32.4">Case &amp; Citation)</tspan></text><path class="ib" d="M1514 3656.6H1756"/></g>
<g id="dp08"><text class="t" x="1636" y="3707"><tspan x="1636">DP08: Receive Order</tspan><tspan x="1636" dy="32.4">Fixing Date &amp; Send to</tspan><tspan x="1636" dy="32.4">Respondent &amp; AGO</tspan><tspan x="1636" dy="32.4">(A11 Case &amp; Citation)</tspan></text><path class="ib" d="M1514 3815H1756"/></g>
<g id="dp09"><text class="t" x="1636" y="3855"><tspan x="1636">DP09: Motion to</tspan><tspan x="1636" dy="32.4">Vacate a Default</tspan><tspan x="1636" dy="32.4">Decision (A1 Case)</tspan></text><path class="ib" d="M1514 3930H1756"/></g>
<g id="dp10"><text class="t" x="1636" y="3970"><tspan x="1636">DP10: Motion to</tspan><tspan x="1636" dy="32.4">Vacate a Default</tspan><tspan x="1636" dy="32.4">Decision (Citation)</tspan></text><path class="ib" d="M1514 4044.5H1756"/></g>
</g>

<!-- 23) Hearing Transcript Requests -->
<g id="ht">
<text class="h" x="1625" y="4123"><tspan x="1625">23) Hearing</tspan><tspan x="1625" dy="32.4">Transcript Requests</tspan><tspan x="1625" dy="32.4">(HT)</tspan></text>
<path class="hb" d="M1505 4199H1745"/>
<g id="ht01"><text class="t" x="1625" y="4238"><tspan x="1625">HT01: Receive &amp;</tspan><tspan x="1625" dy="32.4">Process Request for</tspan><tspan x="1625" dy="32.4">Hearing Transcript</tspan></text><path class="ib" d="M1505 4314H1745"/></g>
</g>

<!-- 21) Application Investigations -->
<g id="ad">
<text class="h" x="1284" y="2947"><tspan x="1284">21) Application</tspan><tspan x="1284" dy="32.4">Investigations (AD)</tspan></text>
<path class="hb" d="M1164 2991H1404"/>
<g id="ad01"><text class="t" x="1327" y="3037"><tspan x="1327">AD01: Receive and</tspan><tspan x="1327" dy="32.4">Track</tspan><tspan x="1327" dy="32.4">Recommendation to</tspan><tspan x="1327" dy="32.4">Deny Applications</tspan></text><path class="ib" d="M1206 3144.6H1447"/></g>
<g id="ad02"><text class="t" x="1322" y="3197"><tspan x="1322">AD02: Review</tspan><tspan x="1322" dy="32.4">Recommendation to</tspan><tspan x="1322" dy="32.4">Deny Application or</tspan><tspan x="1322" dy="32.4">Offer Probationary</tspan><tspan x="1322" dy="32.4">License</tspan></text><path class="ib" d="M1201 3337H1442"/></g>
<g id="ad03"><text class="t" x="1322" y="3380"><tspan x="1322">AD03: Prepare Denial</tspan><tspan x="1322" dy="32.4">Letter to Applicant</tspan></text><path class="ib" d="M1201 3424H1442"/></g>
<g id="ad04"><text class="t" x="1317" y="3462.6"><tspan x="1317">AD04: Receive and</tspan><tspan x="1317" dy="32.4">Track Applicant’s</tspan><tspan x="1317" dy="32.4">Appeal Request</tspan></text><path class="ib" d="M1197 3539H1437"/></g>
<g id="ad05"><text class="t" x="1311" y="3580"><tspan x="1311">AD05: Forward</tspan><tspan x="1311" dy="32.4">Appeal to Field Office</tspan><tspan x="1311" dy="32.4">with Request for</tspan><tspan x="1311" dy="32.4">Statement of Issues</tspan></text><path class="ib" d="M1190 3688H1432"/></g>
<g id="ad06"><text class="t" x="1311" y="3729"><tspan x="1311">AD06: Review SOI</tspan><tspan x="1311" dy="32.4">Report &amp; Forward to</tspan><tspan x="1311" dy="32.4">EOB Manager for</tspan><tspan x="1311" dy="32.4">Approval</tspan></text><path class="ib" d="M1190 3836H1432"/></g>
<g id="ad07"><text class="t" x="1311" y="3886"><tspan x="1311">AD07: EOB Manager</tspan><tspan x="1311" dy="32.4">Forwards Case to</tspan><tspan x="1311" dy="32.4">AGPA for Processing</tspan></text><path class="ib" d="M1190 3961H1432"/></g>
<g id="ad08"><text class="t" x="1317" y="4002"><tspan x="1317">AD08: AGPA Updates</tspan><tspan x="1317" dy="32.4">Records in CAS and</tspan><tspan x="1317" dy="32.4">Forwards to AGO</tspan></text><path class="ib" d="M1197 4076H1438"/></g>
</g>

<!-- 15) Default Decision & Orders -->
<g id="dd">
<text class="h" x="521" y="3019"><tspan x="521">15) Default Decision</tspan><tspan x="521" dy="32.4">&amp; Orders (DD)</tspan></text>
<path class="hb" d="M400 3064H640"/>
<g id="dd01"><text class="t" x="516" y="3106"><tspan x="516">DD01: Receive</tspan><tspan x="516" dy="32.4">Default Decision &amp;</tspan><tspan x="516" dy="32.4">Order &amp; Forward to</tspan><tspan x="516" dy="32.4">DCA Legal (A1</tspan><tspan x="516" dy="32.4">Administrative Case)</tspan></text><path class="ib" d="M396 3246H636"/></g>
<g id="dd02"><text class="t" x="516" y="3292"><tspan x="516">DD02: Receive</tspan><tspan x="516" dy="32.4">Default Decision &amp;</tspan><tspan x="516" dy="32.4">Order &amp; Forward to</tspan><tspan x="516" dy="32.4">DCA Legal (Citation)</tspan></text><path class="ib" d="M396 3399.5H636"/></g>
</g>

<!-- 16) Administrative Hearings -->
<g id="ah">
<text class="h" x="516" y="3489"><tspan x="516">16) Administrative</tspan><tspan x="516" dy="32.4">Hearings (Formal)</tspan></text>
<path class="hb" d="M396 3533H636"/>
<g id="ah01"><text class="t" x="516" y="3583"><tspan x="516">AH01: Receive Notice</tspan><tspan x="516" dy="32.4">of Hearing (NOH) &amp;</tspan><tspan x="516" dy="32.4">Track Date</tspan></text><path class="ib" d="M396 3659.5H636"/></g>
<g id="ah02"><text class="t" x="516" y="3689"><tspan x="516">AH02: Track</tspan><tspan x="516" dy="32.4">Preparation for Cost</tspan><tspan x="516" dy="32.4">Certification Request</tspan><tspan x="516" dy="32.4">(sent to AGO) for an</tspan><tspan x="516" dy="32.4">Administrative</tspan><tspan x="516" dy="32.4">Hearing</tspan></text><path class="ib" d="M396 3860H636"/></g>
<g id="ah03"><text class="t" x="516" y="3897"><tspan x="516">AH03: Receive Notice</tspan><tspan x="516" dy="32.4">of Hearing (NOH)</tspan><tspan x="516" dy="32.4">Continued &amp; Track</tspan><tspan x="516" dy="32.4">Date</tspan></text><path class="ib" d="M396 4004H636"/></g>
</g>

<!-- 17) Cost Recovery -->
<g id="co">
<text class="h" x="516" y="4070"><tspan x="516">17) Cost Recovery</tspan><tspan x="516" dy="32.4">(CO)</tspan></text>
<path class="hb" d="M396 4115.6H636"/>
<g id="co01"><text class="t" x="516" y="4151"><tspan x="516">CR01: Receive &amp;</tspan><tspan x="516" dy="32.4">Process Fine</tspan><tspan x="516" dy="32.4">Payments for Cost</tspan><tspan x="516" dy="32.4">Owed Compliance</tspan></text><path class="ib" d="M396 4260H636"/></g>
<g id="co02"><text class="t" x="516" y="4308.5"><tspan x="516">CR02: Monitors Cost</tspan><tspan x="516" dy="32.4">Recovery for</tspan><tspan x="516" dy="32.4">Probation</tspan></text><path class="ib" d="M396 4384.6H636"/></g>
<g id="co03"><text class="t" x="516" y="4440"><tspan x="516">CR03: Monitors Cost</tspan><tspan x="516" dy="32.4">Recovery for</tspan><tspan x="516" dy="32.4">Revocation</tspan></text><path class="ib" d="M396 4516.6H636"/></g>
</g>

<!-- 18) WRIT Processing -->
<g id="wp">
<text class="h" x="896" y="2957"><tspan x="896">18) WRIT Processing</tspan><tspan x="896" dy="32.4">(WP)</tspan></text>
<path class="hb" d="M775 3001H1015"/>
<g id="wp01"><text class="t" x="895" y="3034"><tspan x="895">WP01: Receive &amp;</tspan><tspan x="895" dy="32.4">Process a WRIT Filed</tspan></text><path class="ib" d="M775 3077H1015"/></g>
</g>

<!-- 19) STAR Enforcement -->
<g id="se">
<text class="h" x="894" y="3169"><tspan x="894">19) STAR</tspan><tspan x="894" dy="32.4">Enforcement (SE)</tspan></text>
<path class="hb" d="M774 3213H1014"/>
<g id="se01"><text class="t" x="894" y="3252"><tspan x="894">SE01: Receive &amp;</tspan><tspan x="894" dy="32.4">Process Informal</tspan><tspan x="894" dy="32.4">Appeal</tspan></text><path class="ib" d="M774 3327.6H1014"/></g>
<g id="se02"><text class="t" x="894" y="3367"><tspan x="894">SE02: Receive,</tspan><tspan x="894" dy="32.4">Process, &amp; Track</tspan><tspan x="894" dy="32.4">Formal Appeal</tspan></text><path class="ib" d="M774 3442H1014"/></g>
<g id="se03"><text class="t" x="894" y="3495"><tspan x="894">SE03: Forward Formal</tspan><tspan x="894" dy="32.4">Appeal to AGO</tspan></text><path class="ib" d="M774 3539H1014"/></g>
<g id="se04"><text class="t" x="894" y="3578"><tspan x="894">SE04: Receive, Track.</tspan><tspan x="894" dy="32.4">&amp; Forward Decision</tspan><tspan x="894" dy="32.4">to DCA Legal</tspan></text><path class="ib" d="M774 3653H1014"/></g>
<g id="se05"><text class="t" x="894" y="3696.5"><tspan x="894">SE05: Receive</tspan><tspan x="894" dy="32.4">Adopted Decision</tspan><tspan x="894" dy="32.4">from DCA Legal,</tspan><tspan x="894" dy="32.4">Update CAS, &amp; Send</tspan><tspan x="894" dy="32.4">to Respondent</tspan></text><path class="ib" d="M774 3836H1014"/></g>
</g>

<!-- 20) Probation Monitoring -->
<g id="pb">
<text class="h" x="889" y="3907"><tspan x="889">20) Probation</tspan><tspan x="889" dy="32.4">Monitoring (PM)</tspan></text>
<path class="hb" d="M769 3952H1009"/>
<g id="pb01"><text class="t" x="889" y="3994"><tspan x="889">PB01: Updating</tspan><tspan x="889" dy="32.4">Probation</tspan><tspan x="889" dy="32.4">Conferences in CAS</tspan><tspan x="889" dy="32.4">for a Penalty/</tspan><tspan x="889" dy="32.4">Probation Record</tspan></text><path class="ib" d="M769 4134H1009"/></g>
<g id="pb02"><text class="t" x="889" y="4170"><tspan x="889">PB02: Processing a</tspan><tspan x="889" dy="32.4">Request for Early</tspan><tspan x="889" dy="32.4">Termination of</tspan><tspan x="889" dy="32.4">Probation</tspan></text><path class="ib" d="M769 4278H1009"/></g>
<g id="pb03"><text class="t" x="889" y="4315"><tspan x="889">PB03: Processing a</tspan><tspan x="889" dy="32.4">Request for</tspan><tspan x="889" dy="32.4">Modification of</tspan><tspan x="889" dy="32.4">Probation</tspan></text><path class="ib" d="M769 4421.6H1009"/></g>
<g id="pb04"><text class="t" x="889" y="4452"><tspan x="889">PB04: Updating CAS</tspan><tspan x="889" dy="32.4">for Probation Term</tspan><tspan x="889" dy="32.4">Completion</tspan></text><path class="ib" d="M769 4528H1009"/></g>
</g>

</g>
</svg>
